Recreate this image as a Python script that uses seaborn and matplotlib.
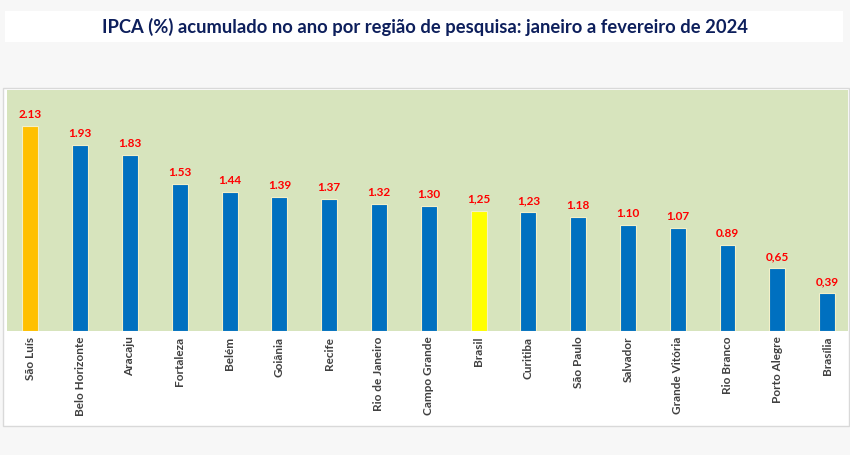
import pandas as pd
import matplotlib.pyplot as plt
import seaborn as sns
from matplotlib.patches import Rectangle

regioes = ['São Luís', 'Belo Horizonte', 'Aracaju', 'Fortaleza', 'Belém', 'Goiânia',
           'Recife', 'Rio de Janeiro', 'Campo Grande', 'Brasil', 'Curitiba', 'São Paulo',
           'Salvador', 'Grande Vitória', 'Rio Branco', 'Porto Alegre', 'Brasília']
ipca = [2.13, 1.93, 1.83, 1.53, 1.44, 1.39, 1.37, 1.32, 1.30, 1.25, 1.23, 1.18,
        1.10, 1.07, 0.89, 0.65, 0.39]
rotulos = ['2.13', '1.93', '1.83', '1.53', '1.44', '1.39', '1.37', '1.32', '1.30', '1,25',
           '1,23', '1.18', '1.10', '1.07', '0.89', '0,65', '0,39']

cores = ['#0070c0'] * len(regioes)
cores[0] = '#ffc000'
cores[regioes.index('Brasil')] = '#ffff00'

df = pd.DataFrame({'regiao': regioes, 'ipca': ipca})

sns.set_style('white')
plt.rcParams['font.family'] = ['Lato', 'DejaVu Sans']

fig = plt.figure(figsize=(8.5, 4.55), dpi=100)
fig.patch.set_facecolor('#f7f7f7')

# caixa branca do titulo e painel do grafico
fig.patches.append(Rectangle((5 / 850, 1 - 42 / 455), 838 / 850, 31 / 455,
                             transform=fig.transFigure, facecolor='white',
                             edgecolor='none', zorder=-1))
fig.patches.append(Rectangle((3 / 850, 1 - 426 / 455), 846 / 850, 338 / 455,
                             transform=fig.transFigure, facecolor='white',
                             edgecolor='#d9d9d9', linewidth=1, zorder=-1))
fig.text(0.5, 1 - 27 / 455, 'IPCA (%) acumulado no ano por região de pesquisa: janeiro a fevereiro de 2024',
         ha='center', va='center', fontsize=13.2, fontweight='bold', color='#0d1f5c')

ax = fig.add_axes([7 / 850, 1 - 331 / 455, 841 / 850, 241 / 455])
ax.set_zorder(2)
ax.set_facecolor('#d7e4bd')

sns.barplot(data=df, x='regiao', y='ipca', hue='regiao', palette=cores, legend=False,
            width=0.32, edgecolor='#f3f0c8', linewidth=0.8, ax=ax, saturation=1)

for i, (v, r) in enumerate(zip(ipca, rotulos)):
    ax.text(i, v + 0.06, r, ha='center', va='bottom', color='#ff0000',
            fontsize=8.5, fontweight='bold')

ax.set_ylim(0, 2.5)
ax.set_xlim(-0.47, 16.42)
ax.set_yticks([])
ax.set_xlabel('')
ax.set_ylabel('')
ax.tick_params(axis='x', length=0, pad=4)
plt.setp(ax.get_xticklabels(), rotation=90, fontsize=8.5, fontweight='bold',
         color='#404040', va='top', ha='center')
for s in ax.spines.values():
    s.set_visible(False)

fig.savefig('out.png', dpi=100, facecolor=fig.get_facecolor())
